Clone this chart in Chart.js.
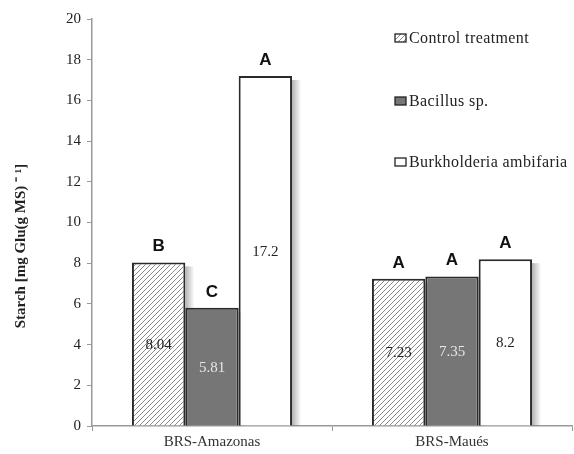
<!DOCTYPE html>
<html>
<head>
<meta charset="utf-8">
<script src="https://cdn.jsdelivr.net/npm/chart.js@4"></script>
<style>
html,body{margin:0;padding:0;background:#fff;}
#wrap{width:574px;height:454px;}
</style>
</head>
<body>
<div id="wrap"><canvas id="c" width="574" height="454"></canvas></div>
<script>
const categories = ["BRS-Amazonas", "BRS-Maués"];
const seriesNames = ["Control treatment", "Bacillus sp.", "Burkholderia ambifaria"];
const controlValues = [8.04, 7.23];
const bacillusValues = [5.81, 7.35];
const burkholderiaValues = [17.2, 8.2];
const controlLetters = ["B", "A"];
const bacillusLetters = ["C", "A"];
const burkholderiaLetters = ["A", "A"];
const yTicks = [0, 2, 4, 6, 8, 10, 12, 14, 16, 18, 20];
const yTitle = "Starch [mg Glu(g MS) ⁻ ¹]";

function hatch() {
  const p = document.createElement('canvas');
  p.width = 5; p.height = 5;
  const g = p.getContext('2d');
  g.fillStyle = '#fff'; g.fillRect(0,0,5,5);
  g.strokeStyle = '#8a8a8a'; g.lineWidth = 1;
  g.beginPath();
  g.moveTo(-1,6); g.lineTo(6,-1);
  g.moveTo(-1,1); g.lineTo(1,-1);
  g.moveTo(4,6); g.lineTo(6,4);
  g.stroke();
  return g.createPattern(p, 'repeat');
}
const ctx = document.getElementById('c').getContext('2d');
const hatchPattern = hatch();

const serif = "'Liberation Serif', 'Times New Roman', serif";
const sans = "'Liberation Sans', Arial, sans-serif";

const valueColors = ['#222', '#e6e6e6', '#222'];
const letterSets = [controlLetters, bacillusLetters, burkholderiaLetters];

const labelPlugin = {
  id: 'labels',
  beforeDatasetsDraw(chart) {
    const c = chart.ctx;
    c.save();
    chart.data.datasets.forEach((ds, di) => {
      const meta = chart.getDatasetMeta(di);
      meta.data.forEach((bar) => {
        const right = bar.x + bar.width / 2;
        const gr = c.createLinearGradient(right, 0, right + 9, 0);
        gr.addColorStop(0, 'rgba(0,0,0,0.30)');
        gr.addColorStop(1, 'rgba(0,0,0,0)');
        c.fillStyle = gr;
        c.fillRect(right, bar.y + 4, 9, bar.base - bar.y - 4);
      });
    });
    c.restore();
  },
  afterDatasetsDraw(chart) {
    const c = chart.ctx;
    c.save();
    chart.data.datasets.forEach((ds, di) => {
      const meta = chart.getDatasetMeta(di);
      meta.data.forEach((bar, i) => {
        const v = ds.data[i];
        c.font = "15px " + serif;
        c.fillStyle = valueColors[di];
        c.textAlign = 'center';
        c.textBaseline = 'middle';
        c.fillText(String(v), bar.x, (bar.y + bar.base) / 2 + 1);
        c.font = "bold 17px " + sans;
        c.fillStyle = '#111';
        c.textBaseline = 'alphabetic';
        c.fillText(letterSets[di][i], bar.x, bar.y - 11);
      });
    });
    // legend
    const items = [
      {fill: hatchPattern, y: 38},
      {fill: '#767676', y: 101},
      {fill: '#ffffff', y: 162}
    ];
    items.forEach((it, k) => {
      c.fillStyle = it.fill;
      c.fillRect(395, it.y - 4, 11, 8);
      c.strokeStyle = '#222';
      c.lineWidth = 1.3;
      c.strokeRect(395, it.y - 4, 11, 8);
      c.font = "16px " + serif;
      c.letterSpacing = '0.4px';
      c.fillStyle = '#222';
      c.textAlign = 'left';
      c.textBaseline = 'middle';
      c.fillText(seriesNames[k], 409, it.y + 1);
      c.letterSpacing = '0px';
    });
    // y axis title
    c.translate(21, 246);
    c.rotate(-Math.PI / 2);
    c.font = "bold 15px " + serif;
    c.fillStyle = '#222';
    c.textAlign = 'center';
    c.textBaseline = 'middle';
    c.fillText(yTitle, 0, 0);
    c.restore();
  }
};

new Chart(ctx, {
  type: 'bar',
  data: {
    labels: categories,
    datasets: [
      {label: seriesNames[0], data: controlValues, backgroundColor: hatchPattern, borderColor: '#2a2a2a', borderWidth: 2},
      {label: seriesNames[1], data: bacillusValues, backgroundColor: '#767676', borderColor: '#2a2a2a', borderWidth: 2},
      {label: seriesNames[2], data: burkholderiaValues, backgroundColor: '#ffffff', borderColor: '#2a2a2a', borderWidth: 2}
    ]
  },
  options: {
    responsive: false,
    animation: false,
    layout: {padding: {top: 19, right: 2, left: 0, bottom: 0}},
    plugins: {legend: {display: false}, tooltip: {enabled: false}},
    datasets: {bar: {categoryPercentage: 0.667, barPercentage: 1}},
    scales: {
      x: {
        grid: {display: true, drawOnChartArea: false, drawTicks: true, tickLength: 5, color: '#999', offset: true},
        border: {color: '#999', width: 1.5},
        ticks: {font: {family: serif, size: 15}, color: '#333', padding: 2},
        afterFit(s) { s.height = 28; }
      },
      y: {
        min: 0, max: 20,
        afterBuildTicks(s) { s.ticks = yTicks.map(v => ({value: v})); },
        grid: {display: true, drawOnChartArea: false, drawTicks: true, tickLength: 5, color: '#999'},
        border: {color: '#999', width: 1.5},
        ticks: {font: {family: serif, size: 15}, color: '#222', padding: 6},
        title: {display: false},
        afterFit(s) { s.width = 92; }
      }
    }
  },
  plugins: [labelPlugin]
});
</script>
</body>
</html>
